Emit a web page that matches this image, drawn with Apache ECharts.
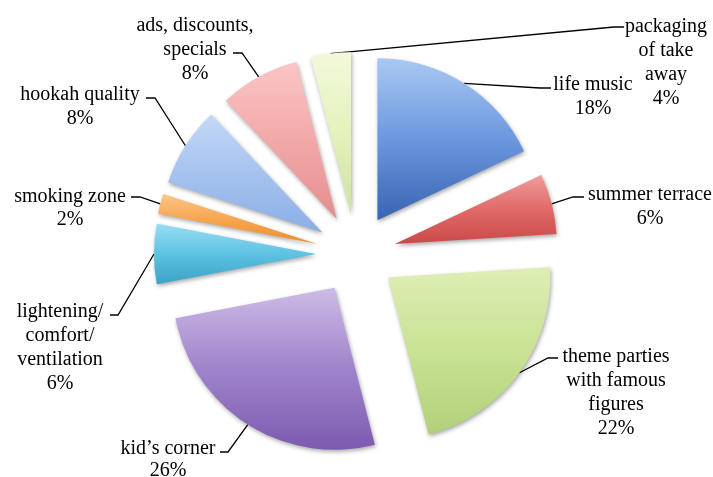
<!DOCTYPE html>
<html>
<head>
<meta charset="utf-8">
<script src="https://cdn.jsdelivr.net/npm/echarts@6/dist/echarts.min.js"></script>
<style>html,body{margin:0;padding:0;background:#fff}#c{width:713px;height:477px}</style>
</head>
<body>
<div id="c"></div>
<script>
var categories = ["life music", "summer terrace", "theme parties\nwith famous\nfigures", "kid\u2019s corner", "lightening/\ncomfort/\nventilation", "smoking zone", "hookah quality", "ads, discounts,\nspecials", "packaging\nof take\naway"];
var values = [18, 6, 22, 26, 6, 2, 8, 8, 4];
var gradients = [
  ["#a9c8f3", "#6b98de", "#3864b2"],
  ["#ee9d9b", "#e06a68", "#c94a48"],
  ["#ddeeb4", "#c9e294", "#b2d07a"],
  ["#cdbbe6", "#9f84cb", "#7c5ab0"],
  ["#96def4", "#5ec2e2", "#3aa2c6"],
  ["#fcc78a", "#f7a650", "#ee8e2c"],
  ["#c3d8f6", "#a6c3ef", "#8aaee4"],
  ["#f9c6c5", "#f2a9a8", "#e48e8d"],
  ["#f2f9dc", "#e4f2bc", "#cde3a0"]
];
// label placement (layout only): centre x, top y, line height, leader elbow and end
var labelSpots = [
  {cx: 593, top: 73,  lh: 24, elbow: [540, 88],  end: [551, 88]},
  {cx: 650, top: 183, lh: 24, elbow: [573, 197], end: [584, 197]},
  {cx: 616, top: 345, lh: 24, elbow: [548, 358], end: [558, 358]},
  {cx: 168, top: 438, lh: 22, elbow: [228, 452], end: [220, 452]},
  {cx: 60,  top: 300, lh: 24, elbow: [118, 315], end: [110, 315]},
  {cx: 70,  top: 185, lh: 23, elbow: [140, 197], end: [131, 197]},
  {cx: 80,  top: 83,  lh: 24, elbow: [155, 98],  end: [146, 98]},
  {cx: 195, top: 14,  lh: 24, elbow: [242, 53],  end: [233, 53]},
  {cx: 666, top: 15,  lh: 24, elbow: [614, 27],  end: [624, 27]}
];

var PIE_CENTER = [356, 254];
var PIE_RADIUS = 162;
var EXPLODE = 40;

var chart = echarts.init(document.getElementById('c'), null, {renderer: 'canvas'});
var sliceData = categories.map(function (name, i) {
  var g = gradients[i];
  return {
    name: name,
    value: values[i],
    selected: true,
    itemStyle: {
      color: {type: 'linear', x: 0, y: 0, x2: 0, y2: 1,
        colorStops: [{offset: 0, color: g[0]}, {offset: 0.5, color: g[1]}, {offset: 1, color: g[2]}]}
    }
  };
});
var labelData = categories.map(function (name, i) {
  return {name: name, value: values[i], label: {lineHeight: labelSpots[i].lh}};
});
chart.setOption({
  animation: false,
  backgroundColor: '#ffffff',
  series: [{
    type: 'pie',
    silent: true,
    center: PIE_CENTER,
    radius: PIE_RADIUS,
    startAngle: 90,
    clockwise: true,
    selectedMode: 'multiple',
    selectedOffset: EXPLODE,
    emphasis: {disabled: true},
    itemStyle: {
      shadowBlur: 4, shadowColor: 'rgba(0,0,0,0.35)', shadowOffsetX: 1, shadowOffsetY: 2
    },
    label: {show: false},
    labelLine: {show: false},
    data: sliceData
  }, {
    // carries the labels; its rim is the rim of the exploded slices
    type: 'pie',
    silent: true,
    center: PIE_CENTER,
    radius: PIE_RADIUS + EXPLODE,
    startAngle: 90,
    clockwise: true,
    avoidLabelOverlap: false,
    emphasis: {disabled: true},
    itemStyle: {color: 'rgba(0,0,0,0)', borderWidth: 0},
    label: {
      show: true,
      position: 'outside',
      fontFamily: 'Liberation Serif',
      fontSize: 20,
      lineHeight: 24,
      color: '#000',
      align: 'center',
      formatter: function (p) { return p.name + '\n' + Math.round(p.percent) + '%'; }
    },
    labelLine: {show: true, lineStyle: {color: '#000', width: 1.3}},
    labelLayout: function (params) {
      var s = labelSpots[params.dataIndex];
      var pts = params.labelLinePoints;
      return {
        x: s.cx, y: s.top, align: 'center', verticalAlign: 'top',
        labelLinePoints: [pts[0], s.elbow, s.end]
      };
    },
    data: labelData
  }]
});
</script>
</body>
</html>
